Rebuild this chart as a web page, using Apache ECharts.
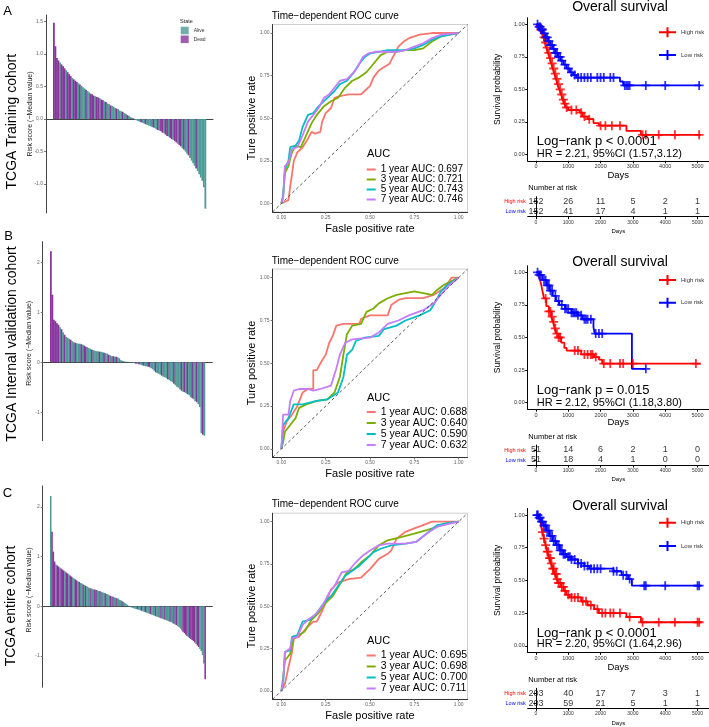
<!DOCTYPE html>
<html><head><meta charset="utf-8">
<script src="https://cdn.jsdelivr.net/npm/echarts@6/dist/echarts.min.js"></script>
<style>html,body{margin:0;padding:0;background:#fff}#c{width:709px;height:727px}</style>
</head><body><div id="c"></div>
<script>
// ---------------- DATA ----------------
// Waterfall: risk score minus median, sorted; state A = Alive, D = Dead
const riskA = [1.48,1.12,0.94,0.90,0.87,0.84,0.81,0.78,0.75,0.72,
0.69,0.66,0.63,0.61,0.59,0.57,0.55,0.53,0.51,0.49,
0.47,0.45,0.43,0.41,0.39,0.38,0.36,0.35,0.34,0.33,
0.32,0.30,0.29,0.27,0.26,0.24,0.23,0.21,0.20,0.19,
0.17,0.16,0.15,0.13,0.12,0.11,0.09,0.08,0.06,0.05,
0.03,0.02,0.01,-0.01,-0.02,-0.03,-0.04,-0.05,-0.06,-0.07,
-0.08,-0.09,-0.10,-0.11,-0.12,-0.13,-0.14,-0.16,-0.17,-0.18,
-0.19,-0.21,-0.22,-0.24,-0.26,-0.27,-0.29,-0.31,-0.32,-0.34,
-0.36,-0.38,-0.40,-0.42,-0.45,-0.47,-0.50,-0.53,-0.56,-0.60,
-0.64,-0.68,-0.72,-0.76,-0.80,-0.85,-0.90,-0.95,-1.05,-1.38];
const stateA = ("DDDDADDDAD"+"DDADDDADAA"+"ADAADDDADD"+"ADDADAADAA"+"ADAAADAADA"+
 "AADAAAADAA"+"DAAAADAADA"+"DDADDADDAD"+"DADDADAADA"+"AAADAAAAAA").split('');

const riskB = [2.22,1.35,0.85,0.82,0.78,0.75,0.70,0.66,0.60,0.55,
0.51,0.49,0.47,0.45,0.42,0.40,0.39,0.38,0.37,0.37,
0.36,0.35,0.33,0.31,0.30,0.28,0.27,0.25,0.24,0.23,
0.22,0.22,0.21,0.21,0.20,0.19,0.18,0.17,0.15,0.14,
0.12,0.12,0.11,0.11,0.10,0.08,0.04,0.03,0.02,0.01,
0.01,0.005,-0.005,-0.01,-0.01,-0.02,-0.03,-0.03,-0.04,-0.05,
-0.06,-0.07,-0.08,-0.08,-0.09,-0.10,-0.12,-0.14,-0.17,-0.20,
-0.22,-0.23,-0.25,-0.27,-0.29,-0.30,-0.32,-0.34,-0.36,-0.38,
-0.40,-0.43,-0.46,-0.49,-0.51,-0.54,-0.57,-0.59,-0.60,-0.62,
-0.64,-0.66,-0.70,-0.72,-0.74,-0.78,-0.80,-0.84,-0.90,-1.42,
-1.45,-1.47];
const stateB = ("DDDDDD"+"ADAD"+"AAADAADAAA"+"DADDAAADAA"+"AADAADAADA"+"ADADAAAAAA"+
 "AAAAAADADA"+"ADAADDAAAD"+"AAADAAADAA"+"ADAAAADADA"+"DAADAADAAA"+"DA").split('');

const riskC = [2.22,1.50,1.10,0.90,0.84,0.82,0.80,0.78,0.76,0.74,
0.72,0.70,0.68,0.66,0.64,0.62,0.60,0.58,0.56,0.54,
0.52,0.50,0.49,0.47,0.46,0.44,0.43,0.41,0.40,0.38,
0.37,0.36,0.35,0.34,0.34,0.33,0.32,0.31,0.30,0.29,
0.28,0.27,0.26,0.25,0.24,0.22,0.21,0.20,0.19,0.18,
0.17,0.16,0.15,0.13,0.12,0.10,0.09,0.07,0.05,0.03,
0.01,-0.01,-0.02,-0.03,-0.04,-0.05,-0.06,-0.06,-0.07,-0.08,
-0.09,-0.10,-0.11,-0.12,-0.13,-0.14,-0.15,-0.16,-0.17,-0.18,
-0.19,-0.20,-0.21,-0.22,-0.23,-0.24,-0.25,-0.26,-0.27,-0.28,
-0.29,-0.30,-0.31,-0.32,-0.34,-0.35,-0.37,-0.38,-0.40,-0.42,
-0.45,-0.48,-0.51,-0.54,-0.57,-0.60,-0.62,-0.64,-0.66,-0.68,
-0.70,-0.73,-0.76,-0.79,-0.82,-0.86,-0.90,-0.98,-1.15,-1.47];
const stateC = ("ADDDADDADD"+"DADDADDAAD"+"DADAADADAA"+"ADAADDAADA"+"AADAAADADA"+
 "ADAAADAAAA"+"AADAAAADAA"+"DAADAAADAA"+"ADAAADAADA"+"AADAADADAA"+
 "AADDDDADDD"+"DDADDAAAAD").split('');

// ROC curves [FPR, TPR]
const rocLabels = ['1 year', '3 year', '5 year', '7 year'];
const aucA = ['0.697','0.721','0.743','0.746'];
const aucB = ['0.688','0.640','0.590','0.632'];
const aucC = ['0.695','0.698','0.700','0.711'];
const rocA1 = [[0,0],[0.02,0.01],[0.04,0.02],[0.05,0.1],[0.06,0.17],[0.07,0.25],[0.09,0.3],[0.12,0.33],[0.15,0.38],[0.17,0.42],[0.19,0.41],[0.22,0.42],[0.23,0.48],[0.25,0.53],[0.28,0.56],[0.3,0.62],[0.33,0.63],[0.38,0.64],[0.45,0.64],[0.47,0.66],[0.5,0.69],[0.52,0.74],[0.55,0.78],[0.58,0.8],[0.61,0.82],[0.63,0.86],[0.66,0.92],[0.69,0.95],[0.72,0.97],[0.78,0.99],[0.85,1.0],[1,1]];
const rocA3 = [[0,0],[0.01,0.04],[0.02,0.18],[0.04,0.22],[0.06,0.3],[0.08,0.34],[0.11,0.33],[0.14,0.4],[0.17,0.47],[0.2,0.52],[0.24,0.57],[0.28,0.6],[0.32,0.62],[0.36,0.68],[0.4,0.72],[0.44,0.74],[0.48,0.77],[0.52,0.82],[0.56,0.87],[0.6,0.89],[0.65,0.89],[0.7,0.9],[0.75,0.9],[0.8,0.91],[0.85,0.95],[0.9,0.98],[0.95,0.99],[1,1]];
const rocA5 = [[0,0],[0.01,0.05],[0.02,0.2],[0.04,0.25],[0.05,0.33],[0.08,0.34],[0.1,0.37],[0.12,0.45],[0.15,0.52],[0.18,0.53],[0.21,0.57],[0.24,0.6],[0.27,0.63],[0.3,0.66],[0.33,0.7],[0.37,0.72],[0.41,0.77],[0.44,0.82],[0.47,0.86],[0.5,0.88],[0.55,0.89],[0.6,0.9],[0.65,0.9],[0.7,0.9],[0.75,0.91],[0.8,0.93],[0.85,0.96],[0.9,0.98],[0.95,0.99],[1,1]];
const rocA7 = [[0,0],[0.01,0.03],[0.02,0.22],[0.04,0.24],[0.06,0.32],[0.09,0.33],[0.12,0.4],[0.15,0.48],[0.18,0.52],[0.21,0.56],[0.24,0.62],[0.27,0.64],[0.3,0.68],[0.33,0.72],[0.37,0.73],[0.4,0.76],[0.43,0.8],[0.46,0.86],[0.49,0.88],[0.53,0.89],[0.6,0.89],[0.65,0.89],[0.7,0.9],[0.75,0.92],[0.8,0.94],[0.85,0.97],[0.9,0.99],[1,1]];
const rocB1 = [[0,0],[0.01,0.1],[0.03,0.16],[0.06,0.2],[0.09,0.25],[0.12,0.33],[0.15,0.35],[0.18,0.35],[0.18,0.46],[0.2,0.46],[0.22,0.5],[0.25,0.55],[0.27,0.62],[0.29,0.66],[0.31,0.72],[0.35,0.73],[0.44,0.73],[0.45,0.76],[0.5,0.78],[0.6,0.78],[0.62,0.84],[0.66,0.87],[0.7,0.88],[0.8,0.88],[0.86,0.9],[0.92,0.94],[0.96,1.0],[1,1]];
const rocB3 = [[0,0],[0.01,0.04],[0.02,0.1],[0.05,0.14],[0.08,0.18],[0.1,0.24],[0.14,0.26],[0.2,0.28],[0.26,0.29],[0.3,0.33],[0.33,0.42],[0.35,0.55],[0.37,0.67],[0.4,0.72],[0.45,0.73],[0.48,0.8],[0.52,0.82],[0.55,0.85],[0.6,0.88],[0.65,0.9],[0.75,0.92],[0.85,0.9],[0.88,0.93],[0.92,0.96],[1,1]];
const rocB5 = [[0,0],[0.01,0.14],[0.04,0.18],[0.07,0.26],[0.12,0.26],[0.16,0.27],[0.2,0.28],[0.26,0.29],[0.32,0.33],[0.35,0.42],[0.37,0.55],[0.4,0.58],[0.42,0.63],[0.47,0.65],[0.55,0.66],[0.58,0.7],[0.65,0.72],[0.7,0.75],[0.78,0.78],[0.84,0.81],[0.87,0.86],[0.9,0.92],[0.94,0.96],[1,1]];
const rocB7 = [[0,0],[0.01,0.2],[0.04,0.2],[0.05,0.28],[0.07,0.34],[0.1,0.35],[0.15,0.35],[0.18,0.34],[0.22,0.35],[0.28,0.37],[0.31,0.47],[0.33,0.55],[0.36,0.62],[0.4,0.64],[0.5,0.65],[0.55,0.68],[0.6,0.73],[0.66,0.75],[0.72,0.78],[0.8,0.81],[0.86,0.85],[0.9,0.9],[0.94,0.95],[1,1]];
const rocC1 = [[0,0],[0.02,0.04],[0.04,0.14],[0.06,0.23],[0.07,0.31],[0.1,0.32],[0.14,0.37],[0.18,0.41],[0.2,0.41],[0.22,0.45],[0.25,0.52],[0.28,0.6],[0.32,0.64],[0.38,0.66],[0.45,0.67],[0.5,0.72],[0.55,0.78],[0.6,0.81],[0.62,0.83],[0.65,0.9],[0.7,0.94],[0.75,0.96],[0.8,0.98],[0.85,1.0],[1,1]];
const rocC3 = [[0,0],[0.01,0.08],[0.02,0.18],[0.05,0.22],[0.07,0.31],[0.1,0.33],[0.13,0.35],[0.17,0.42],[0.21,0.46],[0.25,0.52],[0.29,0.56],[0.33,0.63],[0.37,0.7],[0.41,0.72],[0.45,0.76],[0.5,0.8],[0.55,0.86],[0.6,0.89],[0.68,0.91],[0.75,0.93],[0.82,0.95],[0.88,0.97],[0.93,0.99],[1,1]];
const rocC5 = [[0,0],[0.01,0.04],[0.02,0.23],[0.05,0.24],[0.06,0.32],[0.09,0.33],[0.12,0.41],[0.16,0.42],[0.2,0.46],[0.24,0.52],[0.28,0.56],[0.32,0.62],[0.36,0.68],[0.4,0.71],[0.44,0.74],[0.48,0.78],[0.52,0.82],[0.56,0.84],[0.62,0.86],[0.7,0.87],[0.76,0.88],[0.82,0.93],[0.88,0.98],[0.93,0.99],[1,1]];
const rocC7 = [[0,0],[0.01,0.05],[0.02,0.23],[0.05,0.25],[0.06,0.31],[0.09,0.32],[0.12,0.39],[0.15,0.42],[0.19,0.45],[0.23,0.5],[0.27,0.58],[0.3,0.62],[0.34,0.7],[0.38,0.71],[0.42,0.76],[0.46,0.8],[0.5,0.83],[0.55,0.86],[0.6,0.87],[0.7,0.87],[0.76,0.88],[0.82,0.93],[0.88,0.97],[1,1]];

// Kaplan-Meier: [day, survival] step points; censor days
const kmA_high = [[0,1],[60,0.98],[120,0.96],[180,0.93],[230,0.9],[270,0.86],[320,0.82],[370,0.78],[420,0.74],[470,0.7],[520,0.66],[570,0.62],[620,0.58],[660,0.54],[720,0.5],[780,0.46],[830,0.42],[880,0.39],[930,0.36],[1000,0.34],[1350,0.32],[1450,0.29],[1600,0.27],[1780,0.24],[1950,0.22],[2800,0.18],[3250,0.15],[5100,0.15]];
const kmA_low = [[0,1],[80,0.98],[150,0.96],[220,0.93],[300,0.9],[380,0.87],[450,0.84],[520,0.81],[600,0.78],[680,0.75],[760,0.72],[850,0.69],[950,0.66],[1050,0.63],[1150,0.61],[1250,0.59],[2600,0.56],[2700,0.53],[5100,0.53]];
const censA_high = [150,250,300,350,400,450,500,550,600,650,700,750,800,850,900,950,1100,1250,1400,1500,1650,2000,2150,2350,2600,3300,3400,3800,4300,5050];
const censA_low = [50,100,130,170,200,260,300,350,400,450,500,550,600,650,700,750,800,900,1000,1100,1200,1300,1400,1500,1600,1700,1900,2000,2100,2300,2400,2750,2800,2850,2900,3400,4000,5050];
const kmB_high = [[0,1],[100,0.96],[150,0.92],[200,0.86],[250,0.8],[320,0.74],[400,0.7],[470,0.66],[530,0.62],[580,0.57],[630,0.53],[700,0.5],[780,0.46],[880,0.42],[950,0.4],[1400,0.37],[1800,0.35],[1950,0.33],[2050,0.3],[5100,0.3]];
const kmB_low = [[0,1],[100,0.98],[200,0.94],[330,0.9],[420,0.86],[520,0.82],[620,0.78],[720,0.75],[900,0.72],[1100,0.69],[1300,0.67],[1450,0.64],[1780,0.58],[1820,0.53],[2970,0.26],[3400,0.26]];
const censB_high = [300,400,450,500,550,600,650,700,750,1200,1300,1500,1600,1700,1750,1850,2100,2300,2600,2700,3000,4950];
const censB_low = [50,100,150,250,300,350,400,450,500,600,700,800,900,950,1000,1100,1150,1200,1250,1300,1400,1500,1550,1600,1700,1850,1950,2050,3400];
const kmC_high = [[0,1],[80,0.97],[150,0.92],[200,0.87],[250,0.82],[300,0.77],[350,0.72],[400,0.67],[460,0.63],[520,0.59],[580,0.55],[640,0.51],[700,0.48],[780,0.45],[860,0.42],[940,0.39],[1040,0.37],[1400,0.34],[1600,0.31],[1800,0.28],[1950,0.25],[2800,0.22],[3250,0.18],[5100,0.18]];
const kmC_low = [[0,1],[80,0.98],[150,0.95],[220,0.92],[320,0.88],[420,0.84],[520,0.8],[620,0.77],[730,0.73],[850,0.7],[950,0.68],[1100,0.66],[1300,0.63],[1500,0.61],[1650,0.59],[2400,0.57],[2650,0.54],[2850,0.51],[2970,0.46],[5100,0.46]];
const censC_high = [200,250,300,350,380,420,450,480,520,550,600,630,660,700,750,800,850,900,1000,1100,1200,1300,1450,1550,1700,1900,2050,2150,2300,2400,2600,2900,3300,3800,4300,5000,5050];
const censC_low = [30,60,100,130,170,200,250,300,350,400,450,500,550,600,650,700,750,800,850,900,1000,1050,1100,1200,1300,1400,1500,1600,1700,1800,1900,2000,2400,2500,2700,2800,2900,3350,3400,4000,5000,5050];

// Number at risk
const riskTimes = [0,1000,2000,3000,4000,5000];
const atRiskA_high = [152,26,11,5,2,1], atRiskA_low = [152,41,17,4,1,1];
const atRiskB_high = [51,14,6,2,1,0],   atRiskB_low = [51,18,4,1,0,0];
const atRiskC_high = [203,40,17,7,3,1], atRiskC_low = [203,59,21,5,1,1];

const logrankA = 'Log\u2212rank p < 0.0001', hrA = 'HR = 2.21, 95%CI (1.57,3.12)';
const logrankB = 'Log\u2212rank p = 0.015',  hrB = 'HR = 2.12, 95%CI (1.18,3.80)';
const logrankC = 'Log\u2212rank p < 0.0001', hrC = 'HR = 2.20, 95%CI (1.64,2.96)';
const rowLabels = ['TCGA Training cohort','TCGA Internal validation cohort','TCGA entire cohort'];

// ---------------- CHART ----------------
const F = "'Liberation Sans', Arial, Helvetica, sans-serif";
const TEAL = '#4e9a95', PURP = '#87349c';
const ROCCOL = ['#F8766D','#7CAE00','#00BFC4','#C77CFF'];
const chart = echarts.init(document.getElementById('c'), null, {width:709, height:727});
const grid=[], xAxis=[], yAxis=[], series=[], legend=[], graphic=[];
function txt(s, x, y, size, o) {
  o = o || {};
  graphic.push({type:'text', x:x, y:y, rotation:o.rot||0, silent:true, z:100,
    style:{text:s, fontSize:size, fontFamily:F, fill:o.color||'#000', align:o.align||'center', verticalAlign:'middle'}});
}
const R90 = Math.PI/2;
const plain = v => String(v);

function waterfall(risk, state, g) {
  const gi = grid.length;
  grid.push({left:g.left, top:g.top, width:g.width, height:g.height});
  xAxis.push({type:'value', gridIndex:gi, min:g.xmin, max:g.xmax,
    axisLine:{show:true, onZero:true, lineStyle:{color:'#444', width:1}},
    axisTick:{show:false}, axisLabel:{show:false}, splitLine:{show:false}});
  yAxis.push({type:'value', gridIndex:gi, min:g.ymin, max:g.ymax,
    axisLine:{show:true, onZero:false, lineStyle:{color:'#444', width:1}},
    axisTick:{show:true, length:2, customValues:g.ticks, lineStyle:{color:'#777'}},
    axisLabel:{customValues:g.ticks, formatter:g.fmt, fontSize:5, color:'#666', margin:3, fontFamily:F},
    splitLine:{show:false}});
  // one bar per patient, drawn through the axes' scales (custom so adjacent bars touch)
  series.push({type:'custom', xAxisIndex:gi, yAxisIndex:gi, silent:true, z:2,
    encode:{x:0, y:1},
    data: risk.map((v,i)=>[i, v, state[i]==='A' ? 0 : 1]),
    renderItem: (params, api) => {
      const i = api.value(0), v = api.value(1);
      const a = api.coord([i-0.5, 0]), b = api.coord([i+0.5, v]);
      return {type:'rect', shape:{x:a[0], y:Math.min(a[1],b[1]), width:(b[0]-a[0])+0.25, height:Math.abs(b[1]-a[1])},
        style:{fill: api.value(2)===0 ? TEAL : PURP}};
    }});
  // legend keys for the state colours
  series.push({type:'scatter', name:'Alive', xAxisIndex:gi, yAxisIndex:gi, data:[], itemStyle:{color:TEAL}, silent:true});
  series.push({type:'scatter', name:'Dead', xAxisIndex:gi, yAxisIndex:gi, data:[], itemStyle:{color:PURP}, silent:true});
}
const fmt1 = v => v.toFixed(1);
const fmt0 = v => String(Math.round(v));
waterfall(riskA, stateA, {left:46, top:15, width:167, height:198, ymin:-1.446, ymax:1.6, ticks:[-1,-0.5,0,0.5,1,1.5], fmt:fmt1, xmin:-5.08, xmax:104.08});
waterfall(riskB, stateB, {left:42.7, top:241.7, width:169.6, height:199, ymin:-1.57, ymax:2.41, ticks:[-1,0,1,2], fmt:fmt0, xmin:-5.3, xmax:106.3});
waterfall(riskC, stateC, {left:42.7, top:486, width:169.6, height:201.3, ymin:-1.63, ymax:2.42, ticks:[-1,0,1,2], fmt:fmt0, xmin:-6.1, xmax:124.6});

function roc(curves, aucs, top, height) {
  const gi = grid.length;
  grid.push({left:272.5, top:top, width:195, height:height, show:true, borderColor:'#c4c4c4', borderWidth:0.8, backgroundColor:'rgba(0,0,0,0)'});
  const tv = [0,0.25,0.5,0.75,1];
  const ax = () => ({type:'value', gridIndex:gi, min:-0.05, max:1.05,
    axisLine:{show:true, onZero:false, lineStyle:{color:'#333', width:1}},
    axisTick:{show:true, length:2, customValues:tv, lineStyle:{color:'#777'}},
    axisLabel:{customValues:tv, formatter:v=>v.toFixed(2), fontSize:5, color:'#666', margin:3, fontFamily:F},
    splitLine:{show:false}});
  xAxis.push(ax()); yAxis.push(ax());
  curves.forEach((c,k)=>{
    const s = {type:'line', name: rocLabels[k]+' AUC: '+aucs[k], xAxisIndex:gi, yAxisIndex:gi, data:c,
      showSymbol:false, symbol:'none', color:ROCCOL[k], lineStyle:{color:ROCCOL[k], width:1.8}, silent:true, z:3};
    if (k===0) s.markLine = {silent:true, symbol:'none', label:{show:false},
      lineStyle:{color:'#333', type:[3,2.5], width:0.8},
      data:[[{coord:[-0.05,-0.05]},{coord:[1.05,1.05]}]]};
    series.push(s);
  });
}
roc([rocA1,rocA3,rocA5,rocA7], aucA, 24.5, 187.5);
roc([rocB1,rocB3,rocB5,rocB7], aucB, 269.1, 188.4);
roc([rocC1,rocC3,rocC5,rocC7], aucC, 513.2, 186.2);

const PLUS = 'path://M4,0L6,0L6,4L10,4L10,6L6,6L6,10L4,10L4,6L0,6L0,4L4,4Z';
function survAt(curve, t) { let s = 1; for (const p of curve) if (p[0] <= t) s = p[1]; return s; }
function km(high, low, cH, cL, top, height) {
  const gi = grid.length;
  grid.push({left:527.7, top:top, width:183.9, height:height});
  const yt = [0,0.25,0.5,0.75,1];
  xAxis.push({type:'value', gridIndex:gi, min:-255, max:5355,
    axisLine:{show:true, onZero:false, lineStyle:{color:'#000', width:1}},
    axisTick:{show:true, length:2.5, customValues:riskTimes, lineStyle:{color:'#000'}},
    axisLabel:{customValues:riskTimes, formatter:plain, fontSize:5.5, color:'#333', margin:3, fontFamily:F}, splitLine:{show:false}});
  yAxis.push({type:'value', gridIndex:gi, min:-0.05, max:1.05,
    axisLine:{show:true, onZero:false, lineStyle:{color:'#000', width:1}},
    axisTick:{show:true, length:2.5, customValues:yt, lineStyle:{color:'#000'}},
    axisLabel:{customValues:yt, formatter:v=>v.toFixed(2), fontSize:5.5, color:'#333', margin:3, fontFamily:F}, splitLine:{show:false}});
  const grp = [[high,cH,'High risk','#ff0000'],[low,cL,'Low risk','#0000ff']];
  grp.forEach(([c,cs,nm,col])=>{
    series.push({type:'line', name:nm, step:'end', xAxisIndex:gi, yAxisIndex:gi, data:c, showSymbol:false, symbol:'none',
      color:col, lineStyle:{color:col, width:1.8}, silent:true, z:3});
  });
  grp.forEach(([c,cs,nm,col])=>{
    series.push({type:'scatter', name:nm, xAxisIndex:gi, yAxisIndex:gi, symbol:PLUS, symbolSize:9,
      color:col, itemStyle:{color:col}, silent:true, z:4, data: cs.map(t=>[t, survAt(c,t)])});
  });
}
km(kmA_high, kmA_low, censA_high, censA_low, 17.8, 143);
km(kmB_high, kmB_low, censB_high, censB_low, 265.8, 143.4);
km(kmC_high, kmC_low, censC_high, censC_low, 508.5, 143.8);

function table(nH, nL, top) {
  const gi = grid.length;
  grid.push({left:527.7, top:top, width:183.9, height:20});
  xAxis.push({type:'value', gridIndex:gi, min:-255, max:5355,
    axisLine:{show:true, onZero:false, lineStyle:{color:'#000', width:1}},
    axisTick:{show:true, length:2.5, customValues:riskTimes, lineStyle:{color:'#000'}},
    axisLabel:{customValues:riskTimes, formatter:plain, fontSize:5, color:'#333', margin:3, fontFamily:F}, splitLine:{show:false}});
  yAxis.push({type:'category', gridIndex:gi, data:['Low risk','High risk'],
    axisLine:{show:true, lineStyle:{color:'#000', width:1}},
    axisTick:{show:true, alignWithLabel:true, length:2.5, lineStyle:{color:'#000'}},
    axisLabel:{fontSize:5.5, margin:2, fontFamily:F, color:(v)=> v==='High risk' ? '#ff0000' : '#0000ff'}});
  const d = riskTimes.map((t,i)=>[t,'High risk',nH[i]]).concat(riskTimes.map((t,i)=>[t,'Low risk',nL[i]]));
  series.push({type:'scatter', xAxisIndex:gi, yAxisIndex:gi, symbolSize:1, itemStyle:{color:'rgba(0,0,0,0)'}, silent:true,
    label:{show:true, position:'inside', formatter:p=>String(p.value[2]), fontSize:9, color:'#000', fontFamily:F}, data:d});
}
table(atRiskA_high, atRiskA_low, 196.7);
table(atRiskB_high, atRiskB_low, 445);
table(atRiskC_high, atRiskC_low, 688.3);

// Legends
legend.push({data:['Alive','Dead'], left:180.7, top:26.7, orient:'vertical', icon:'rect', itemWidth:8, itemHeight:7.6, itemGap:1.2,
  padding:0, selectedMode:false, textStyle:{fontSize:5, color:'#333', fontFamily:F, lineHeight:7.6}});
[[aucA, 164.5, 7.6, 10],[aucB, 406.5, 10.3, 10.5],[aucC, 650, 10, 10.5]].forEach(([a,top,lh,fs])=>{
  legend.push({data:a.map((v,k)=>rocLabels[k]+' AUC: '+v), left:366.7, top:top, orient:'vertical', icon:'rect',
    itemWidth:9, itemHeight:2, itemGap:0, padding:0, selectedMode:false,
    textStyle:{fontSize:fs, color:'#000', fontFamily:F, lineHeight:lh}});
});
const LEG_ICON = 'path://M0,4L7.5,4L7.5,0L9.5,0L9.5,4L17,4L17,6L9.5,6L9.5,10L7.5,10L7.5,6L0,6Z';
[[27.3,12.7],[275,12.7],[517.7,13.3]].forEach(([top,gap])=>{
  legend.push({data:['High risk','Low risk'], left:659, top:top, orient:'vertical', icon:LEG_ICON,
    itemWidth:17, itemHeight:10, itemGap:gap, padding:0, selectedMode:false,
    textStyle:{fontSize:6, color:'#333', fontFamily:F, lineHeight:10}});
});

// Texts
txt('A', 7.5, 11.3, 13); txt('B', 8.5, 236.7, 13); txt('C', 7.5, 493.3, 13);
txt(rowLabels[0], 11.7, 121.7, 14, {rot:R90});
txt(rowLabels[1], 11.7, 344, 14, {rot:R90});
txt(rowLabels[2], 11, 606, 14, {rot:R90});
[[30,114],[29.3,343.3],[29.3,590]].forEach(([x,y])=>txt('Risk score (\u2212Median value)', x, y, 7, {rot:R90, color:'#222'}));
txt('State', 180, 21.7, 5.5, {align:'left', color:'#222'});

[16.7, 261, 504].forEach(y=>txt('Time\u2212dependent ROC curve', 271.7, y, 10, {align:'left'}));
[118, 363, 606].forEach(y=>txt('Ture positive rate', 251.7, y, 11, {rot:R90}));
[229, 474, 716].forEach(y=>txt('Fasle positive rate', 370, y, 11));
[154, 397.7, 641].forEach(y=>txt('AUC', 367, y, 11, {align:'left'}));

[7, 262.3, 505.7].forEach(y=>txt('Overall survival', 620, y, 14));
[89.3, 337.5, 580.3].forEach(y=>txt('Survival probability', 497.7, y, 8.5, {rot:R90}));
[175.7, 422.7, 667.7].forEach(y=>txt('Days', 618.3, y, 9.5));
[[logrankA,hrA,141.7,154.3],[logrankB,hrB,390,402.7],[logrankC,hrC,633.3,644]].forEach(([l,h,y1,y2])=>{
  txt(l, 536.7, y1, 13, {align:'left'}); txt(h, 536.7, y2, 11, {align:'left'});
});
[188.3, 436.7, 680].forEach(y=>txt('Number at risk', 528.3, y, 7.5, {align:'left'}));
[231, 479.5, 723.3].forEach(y=>txt('Days', 618.3, y, 6));

chart.setOption({animation:false, backgroundColor:'#fff', grid, xAxis, yAxis, series, legend, graphic});
</script></body></html>
